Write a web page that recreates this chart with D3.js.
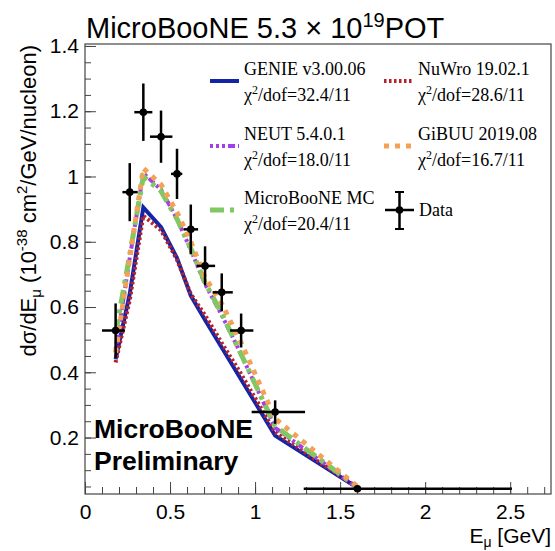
<!DOCTYPE html>
<meta charset="utf-8">
<style>
  body { margin: 0; background: #fff; }
  text { font-family: "Liberation Sans", Arial, sans-serif; }
  .leg text { font-family: "Liberation Serif", "Times New Roman", serif; font-size: 18px; }
</style>
<body>
<svg id="chart" width="555" height="551"></svg>
<script src="https://d3js.org/d3.v7.min.js"></script>
<script>
// data
var eMu     = [0.18, 0.263, 0.343, 0.447, 0.541, 0.622, 0.706, 0.804, 0.918, 1.118, 1.602];
var xLow    = [0.10, 0.22, 0.29, 0.382, 0.506, 0.58, 0.657, 0.751, 0.853, 0.98, 1.286];
var xHigh   = [0.235, 0.31, 0.396, 0.514, 0.572, 0.665, 0.765, 0.869, 0.99, 1.294, 2.51];
var xsec    = [0.528, 0.952, 1.197, 1.122, 1.008, 0.838, 0.726, 0.645, 0.528, 0.278, 0.043];
var xsecErr = [0.083, 0.089, 0.088, 0.080, 0.077, 0.076, 0.060, 0.058, 0.052, 0.036, 0.008];

var genie  = [0.44, 0.64, 0.905, 0.845, 0.75, 0.635, 0.56, 0.476, 0.378, 0.206, 0.046];
var nuwro  = [0.43, 0.62, 0.88, 0.835, 0.745, 0.64, 0.575, 0.49, 0.395, 0.216, 0.046];
var neut   = [0.47, 0.75, 1.01, 0.96, 0.87, 0.775, 0.67, 0.575, 0.455, 0.23, 0.046];
var gibuu  = [0.46, 0.75, 1.025, 0.975, 0.89, 0.80, 0.69, 0.61, 0.49, 0.258, 0.05];
var uboone = [0.52, 0.76, 1.0, 0.955, 0.87, 0.78, 0.675, 0.58, 0.455, 0.235, 0.048];

// drawing order: later entries sit on top
var models = [
  {name: "GENIE v3.00.06",  chi: "32.4/11", vals: genie,  color: "#1424a8", dash: null,                width: 4},
  {name: "NuWro 19.02.1",   chi: "28.6/11", vals: nuwro,  color: "#b4232b", dash: "2.5,2.5",           width: 4},
  {name: "NEUT 5.4.0.1",    chi: "18.0/11", vals: neut,   color: "#a63ee8", dash: "3,3,3,3,3,3,7,3",   width: 4},
  {name: "MicroBooNE MC",   chi: "20.4/11", vals: uboone, color: "#80c864", dash: "14,6,4,6",          width: 5},
  {name: "GiBUU 2019.08",   chi: "16.7/11", vals: gibuu,  color: "#f2a155", dash: "5,6",               width: 5}
];

var xTicks = [0, 0.5, 1, 1.5, 2, 2.5];
var yTicks = [0.2, 0.4, 0.6, 0.8, 1, 1.2, 1.4];

var svg = d3.select("#chart");
var x = d3.scaleLinear().domain([0, 2.74]).range([85, 551]),
    y = d3.scaleLinear().domain([0.027, 1.406]).range([494, 44]);

// frame
svg.append("rect").attr("x", 85).attr("y", 44).attr("width", 466).attr("height", 450)
  .attr("fill", "none").attr("stroke", "#444").attr("stroke-width", 1.2);

// axes (ticks inside the frame, ROOT style)
var xMinor = d3.range(0, 2.75, 0.1);
var yMinor = d3.range(0.05, 1.41, 0.05);
svg.append("g").attr("transform", "translate(0,494)")
  .call(d3.axisBottom(x).tickValues(xMinor).tickSize(-7).tickFormat(""))
  .call(g => g.select(".domain").remove());
svg.append("g").attr("transform", "translate(0,494)")
  .call(d3.axisBottom(x).tickValues(xTicks).tickSize(-12).tickPadding(10).tickFormat(d3.format("")))
  .call(g => g.select(".domain").remove())
  .selectAll("text").attr("font-size", 21).attr("fill", "#000").attr("font-family", "Liberation Sans");
svg.append("g").attr("transform", "translate(85,0)")
  .call(d3.axisLeft(y).tickValues(yMinor).tickSize(-6).tickFormat(""))
  .call(g => g.select(".domain").remove());
svg.append("g").attr("transform", "translate(85,0)")
  .call(d3.axisLeft(y).tickValues(yTicks).tickSize(-11).tickPadding(6).tickFormat(d3.format("")))
  .call(g => g.select(".domain").remove())
  .selectAll("text").attr("font-size", 21).attr("fill", "#000").attr("font-family", "Liberation Sans");
svg.selectAll(".tick line").attr("stroke", "#444");

// title
var title = svg.append("text").attr("x", 86).attr("y", 38).attr("font-size", 29).attr("fill", "#000");
title.append("tspan").text("MicroBooNE 5.3 \u00d7 10");
title.append("tspan").attr("dy", -11).attr("font-size", 20).text("19");
title.append("tspan").attr("dy", 11).text("POT");

// axis titles
var xt = svg.append("text").attr("x", 551).attr("y", 543).attr("text-anchor", "end").attr("font-size", 21);
xt.append("tspan").text("E");
xt.append("tspan").attr("dy", 4).attr("font-size", 14).text("\u03bc");
xt.append("tspan").attr("dy", -4).text(" [GeV]");

var yt = svg.append("text").attr("transform", "translate(36,45) rotate(-90)")
  .attr("text-anchor", "end").attr("font-size", 22);
yt.append("tspan").text("d\u03c3/dE");
yt.append("tspan").attr("dy", 5).attr("font-size", 15).text("\u03bc");
yt.append("tspan").attr("dy", -5).text(" (10");
yt.append("tspan").attr("dy", -9).attr("font-size", 15).text("-38");
yt.append("tspan").attr("dy", 9).text(" cm");
yt.append("tspan").attr("dy", -9).attr("font-size", 15).text("2");
yt.append("tspan").attr("dy", 9).text("/GeV/nucleon)");

// model curves
var line = d3.line().x((d, i) => x(eMu[i])).y(d => y(d));
var plot = svg.append("g");
plot.selectAll("path.model").data(models).enter().append("path")
  .attr("class", "model")
  .attr("d", d => line(d.vals))
  .attr("fill", "none")
  .attr("stroke", d => d.color)
  .attr("stroke-width", d => d.width)
  .attr("stroke-dasharray", d => d.dash);

// data points
var pts = plot.selectAll("g.pt").data(eMu).enter().append("g").attr("class", "pt");
pts.append("line").attr("x1", (d, i) => x(xLow[i])).attr("x2", (d, i) => x(xHigh[i]))
  .attr("y1", (d, i) => y(xsec[i])).attr("y2", (d, i) => y(xsec[i]))
  .attr("stroke", "#000").attr("stroke-width", 2.5);
pts.append("line").attr("x1", d => x(d)).attr("x2", d => x(d))
  .attr("y1", (d, i) => y(xsec[i] - xsecErr[i])).attr("y2", (d, i) => y(xsec[i] + xsecErr[i]))
  .attr("stroke", "#000").attr("stroke-width", 2.5);
pts.append("circle").attr("cx", d => x(d)).attr("cy", (d, i) => y(xsec[i])).attr("r", 3.8).attr("fill", "#000");

// preliminary label
svg.append("text").attr("x", 94).attr("y", 438).attr("font-size", 26.5).attr("font-weight", "bold").text("MicroBooNE");
svg.append("text").attr("x", 94).attr("y", 470).attr("font-size", 26.5).attr("font-weight", "bold").text("Preliminary");

// legend
var legPos = [
  {name: "GENIE v3.00.06", lx: 210, ly: 81},
  {name: "NuWro 19.02.1",  lx: 384, ly: 81},
  {name: "NEUT 5.4.0.1",   lx: 210, ly: 146},
  {name: "GiBUU 2019.08",  lx: 384, ly: 146},
  {name: "MicroBooNE MC",  lx: 210, ly: 210}
];
var leg = svg.append("g").attr("class", "leg");
legPos.forEach(function(p) {
  var m = models.find(d => d.name === p.name);
  leg.append("line").attr("x1", p.lx).attr("x2", p.lx + 29).attr("y1", p.ly).attr("y2", p.ly)
    .attr("stroke", m.color).attr("stroke-width", m.width).attr("stroke-dasharray", m.dash);
  leg.append("text").attr("x", p.lx + 34).attr("y", p.ly - 6).text(m.name);
  var t = leg.append("text").attr("x", p.lx + 34).attr("y", p.ly + 20);
  t.append("tspan").text("\u03c7");
  t.append("tspan").attr("dy", -7).attr("font-size", 12).text("2");
  t.append("tspan").attr("dy", 7).text("/dof=" + m.chi);
});
// data entry
var dg = leg.append("g");
dg.append("line").attr("x1", 385).attr("x2", 414).attr("y1", 210).attr("y2", 210).attr("stroke", "#000").attr("stroke-width", 2.5);
dg.append("line").attr("x1", 399.5).attr("x2", 399.5).attr("y1", 192).attr("y2", 229).attr("stroke", "#000").attr("stroke-width", 2.5);
dg.append("line").attr("x1", 395).attr("x2", 404).attr("y1", 192).attr("y2", 192).attr("stroke", "#000").attr("stroke-width", 2);
dg.append("line").attr("x1", 395).attr("x2", 404).attr("y1", 229).attr("y2", 229).attr("stroke", "#000").attr("stroke-width", 2);
dg.append("circle").attr("cx", 399.5).attr("cy", 210).attr("r", 3.8).attr("fill", "#000");
leg.append("text").attr("x", 419).attr("y", 216).text("Data");
</script>
</body>
